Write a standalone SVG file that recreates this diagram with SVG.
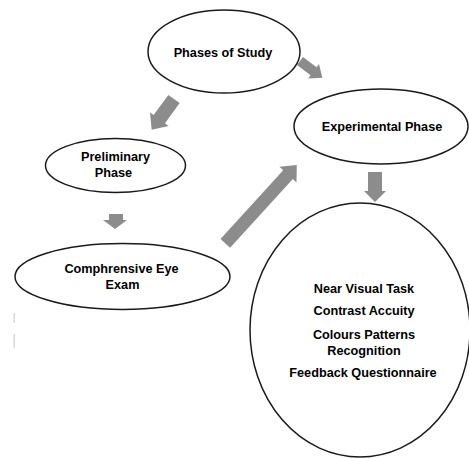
<svg xmlns="http://www.w3.org/2000/svg" width="469" height="458" viewBox="0 0 469 458">
<style>
.node ellipse{fill:#fff;stroke:#1a1a1a;stroke-width:1.5}
.node text{font-family:"Liberation Sans",Arial,sans-serif;font-weight:bold;font-size:12.7px;fill:#000;text-anchor:middle}
.arrow{fill:#8c8c8c;stroke:none}
.mark{fill:#d9d9d9}
</style>
<rect x="0" y="0" width="469" height="458" fill="#fff"/>
<g id="connectors">
<polygon class="arrow" transform="translate(300,61) rotate(37)" points="0,-5 17,-5 17,-9 28,0 17,9 17,5 0,5"/>
<polygon class="arrow" transform="translate(174,99) rotate(126)" points="0,-7 25,-7 25,-11.5 38,0 25,11.5 25,7 0,7"/>
<polygon class="arrow" transform="translate(225.3,243.3) rotate(-47.6)" points="0,-6.5 93,-6.5 93,-11.5 106,0 93,11.5 93,6.5 0,6.5"/>
<polygon class="arrow" points="368,172 382,172 382,191 386,191 375,202 364,191 368,191"/>
<polygon class="arrow" points="109,214 123,214 123,220 127,220 115,229 103,220 109,220"/>
</g>
<g id="phases" class="node">
<ellipse cx="224" cy="51.5" rx="76" ry="41.5"/>
<text x="223" y="56.5">Phases of Study</text>
</g>
<g id="experimental" class="node">
<ellipse cx="381" cy="126.5" rx="87" ry="37.5"/>
<text x="382" y="131">Experimental Phase</text>
</g>
<g id="preliminary" class="node">
<ellipse cx="115.5" cy="165.5" rx="70" ry="27"/>
<text x="115.5" y="160.5">Preliminary</text>
<text x="113.5" y="177">Phase</text>
</g>
<g id="comprehensive" class="node">
<ellipse cx="122.5" cy="276.5" rx="107.5" ry="33"/>
<text x="121.5" y="272.5">Comphrensive Eye</text>
<text x="122.5" y="288.5">Exam</text>
</g>
<g id="experiments" class="node">
<ellipse cx="360" cy="330" rx="110" ry="127"/>
<text x="364" y="292.5">Near Visual Task</text>
<text x="364" y="315">Contrast Accuity</text>
<text x="364" y="339">Colours Patterns</text>
<text x="364" y="354.5">Recognition</text>
<text x="363" y="376.5">Feedback Questionnaire</text>
</g>
<rect class="mark" x="13.5" y="313" width="1.5" height="10"/>
<rect class="mark" x="13.5" y="334" width="1.5" height="14"/>
</svg>
